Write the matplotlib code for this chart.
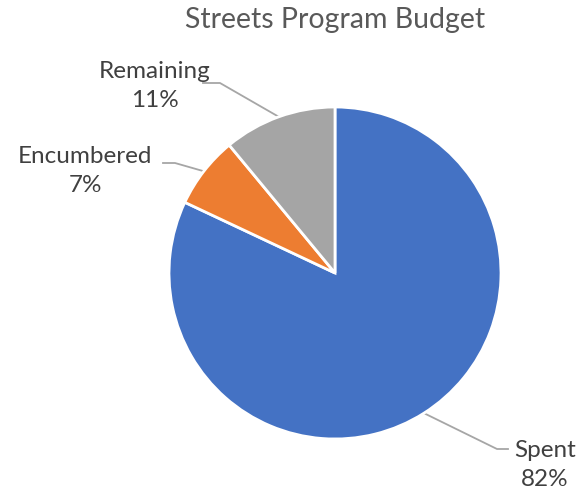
import numpy as np
import matplotlib.pyplot as plt

labels = ['Spent', 'Encumbered', 'Remaining']
shares = [82, 7, 11]
colors = ['#4472C4', '#ED7D31', '#A5A5A5']

# label block centres and leader elbows, in pixel units of the 583x500 image
text_px = [(545, 465), (85, 171), (155, 86)]
elbow_px = [((497, 449), (508, 449)), ((175, 163), (163, 163)), ((220, 83), (203, 83))]

cx, cy, r = 335, 273, 166
W, H = 583, 500


def to_data(px, py):
    return (px - cx) / r, (cy - py) / r


fig = plt.figure(figsize=(5.83, 5.0), dpi=100)
ax = fig.add_axes([0, 0, 1, 1])

wedges, _ = ax.pie(shares, colors=colors, startangle=90, counterclock=False,
                   radius=1, wedgeprops=dict(edgecolor='white', linewidth=2))
ax.set_aspect('auto')
ax.set_xlim(-cx / r, (W - cx) / r)
ax.set_ylim(-(H - cy) / r, cy / r)
ax.axis('off')

for w, lab, val, tp, (e1, e2) in zip(wedges, labels, shares, text_px, elbow_px):
    mid = np.deg2rad((w.theta1 + w.theta2) / 2)
    x0, y0 = np.cos(mid), np.sin(mid)
    xa, ya = to_data(*e1)
    xb, yb = to_data(*e2)
    ax.plot([x0, xa, xb], [y0, ya, yb], color='#A6A6A6', lw=1.3, zorder=0)
    tx, ty = to_data(*tp)
    ax.text(tx, ty, f'{lab}\n{val}%', ha='center', va='center', fontsize=17.5,
            family='Lato', color='#404040', linespacing=1.5)

fig.text(335 / W, 1 - 20 / H, 'Streets Program Budget', ha='center', va='center',
         fontsize=20.5, family='Lato', color='#595959')

fig.savefig('out.png', dpi=100)
